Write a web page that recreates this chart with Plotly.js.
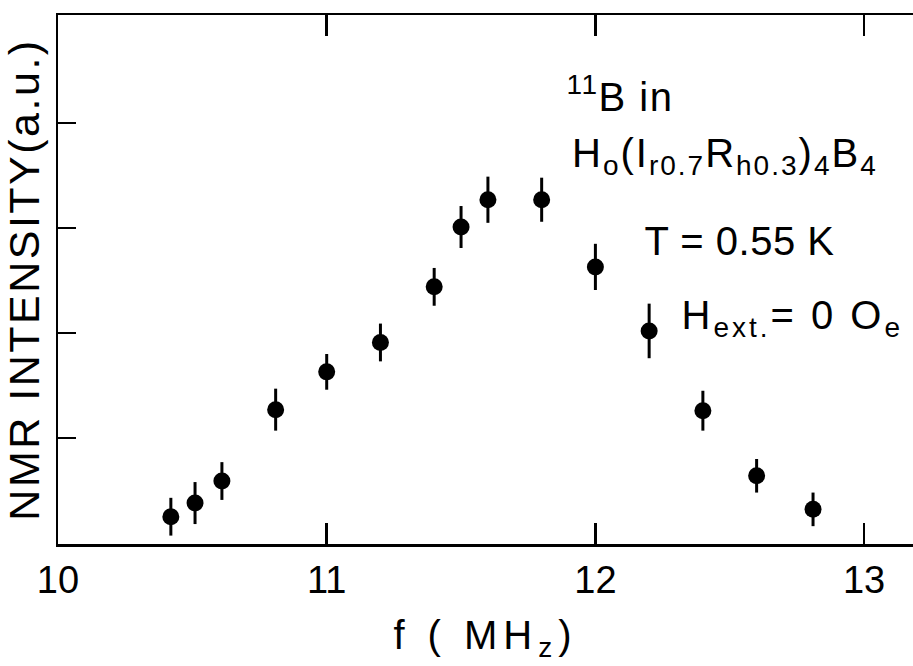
<!DOCTYPE html>
<html>
<head>
<meta charset="utf-8">
<script src="https://cdn.plot.ly/plotly-3.0.1.min.js"></script>
<style>
html,body{margin:0;padding:0;background:#fff;overflow:hidden;}
#chart .ytitle{letter-spacing:2.5px;}
#chart .xtitle{letter-spacing:6px;}
#chart g.annotation[data-index="0"] text{letter-spacing:1.5px;}
#chart g.annotation[data-index="1"] text{letter-spacing:2px;}
#chart g.annotation[data-index="2"] text{letter-spacing:0.5px;}
#chart g.annotation[data-index="3"] text{letter-spacing:3px;}
</style>
</head>
<body>
<div id="chart" style="width:913px;height:666px;"></div>
<script>
// Data
const freqMHz   = [10.42, 10.51, 10.61, 10.81, 11.0, 11.2, 11.4, 11.5, 11.6, 11.8, 12.0, 12.2, 12.4, 12.6, 12.81];
const intensity = [0.25, 0.38, 0.59, 1.27, 1.63, 1.91, 2.44, 3.01, 3.27, 3.27, 2.63, 2.02, 1.26, 0.64, 0.32];
const errBar    = [0.18, 0.20, 0.18, 0.20, 0.17, 0.18, 0.18, 0.20, 0.22, 0.21, 0.22, 0.26, 0.19, 0.16, 0.16];
const xTickVals = [10, 11, 12, 13];
const xTickText = ["10", "11", "12", "13"];
const yTickVals = [1, 2, 3, 4];

const FONT = "Liberation Sans, Arial, sans-serif";

const traces = [{
  type: "scatter",
  mode: "markers",
  x: freqMHz,
  y: intensity,
  marker: {color: "#000", size: 17, line: {width: 0}},
  error_y: {type: "data", array: errBar, visible: true, color: "#000", thickness: 3, width: 0},
  showlegend: false,
  hoverinfo: "skip"
}];

const layout = {
  width: 913, height: 666,
  margin: {l: 58, r: 0, t: 15, b: 122, pad: 0},
  paper_bgcolor: "#fff", plot_bgcolor: "#fff",
  font: {family: FONT, color: "#000"},
  showlegend: false,
  xaxis: {
    range: [10, 13.182],
    tickmode: "array", tickvals: xTickVals, ticktext: xTickText,
    ticks: "inside", ticklen: 21, tickwidth: 2.5, tickcolor: "#000",
    showline: true, linewidth: 2.5, linecolor: "#000", mirror: "ticks",
    showgrid: false, zeroline: false,
    tickfont: {family: FONT, size: 38, color: "#000"},
    ticklabelstandoff: 1,
    title: {text: "f ( MH<sub>z</sub>)", font: {family: FONT, size: 40, color: "#000"}, standoff: 21}
  },
  yaxis: {
    range: [-0.01, 5.03],
    tickmode: "array", tickvals: yTickVals,
    ticks: "inside", ticklen: 18, tickwidth: 2.5, tickcolor: "#000",
    showticklabels: false,
    showline: true, linewidth: 2.5, linecolor: "#000", mirror: false,
    showgrid: false, zeroline: false,
    title: {text: "NMR INTENSITY(a.u.)", font: {family: FONT, size: 43, color: "#000"}, standoff: 14}
  },
  yaxis2: {
    overlaying: "y", side: "right", anchor: "x",
    range: [-0.01, 5.03],
    tickmode: "array", tickvals: yTickVals,
    ticks: "inside", ticklen: 18, tickwidth: 2.5, tickcolor: "#000",
    showticklabels: false, showline: false, showgrid: false, zeroline: false
  },
  annotations: [
    {text: "<sup>11</sup>B in", xref: "paper", yref: "paper", x: 0.598, y: 0.85,
     xanchor: "left", yanchor: "middle", showarrow: false, font: {family: FONT, size: 40, color: "#000"}},
    {text: "H<sub>o</sub>(I<sub>r0.7</sub>R<sub>h0.3</sub>)<sub>4</sub>B<sub>4</sub>", xref: "paper", yref: "paper", x: 0.619, y: 0.734,
     xanchor: "left", yanchor: "middle", showarrow: false, font: {family: FONT, size: 40, color: "#000"}},
    {text: "T = 0.55 K", xref: "paper", yref: "paper", x: 0.686, y: 0.572,
     xanchor: "left", yanchor: "middle", showarrow: false, font: {family: FONT, size: 40, color: "#000"}},
    {text: "H<sub>ext.</sub>= 0 O<sub>e</sub>", xref: "paper", yref: "paper", x: 0.746, y: 0.428,
     xanchor: "left", yanchor: "middle", showarrow: false, font: {family: FONT, size: 40, color: "#000"}}
  ]
};

Plotly.newPlot("chart", traces, layout, {displayModeBar: false, staticPlot: true});
</script>
</body>
</html>
